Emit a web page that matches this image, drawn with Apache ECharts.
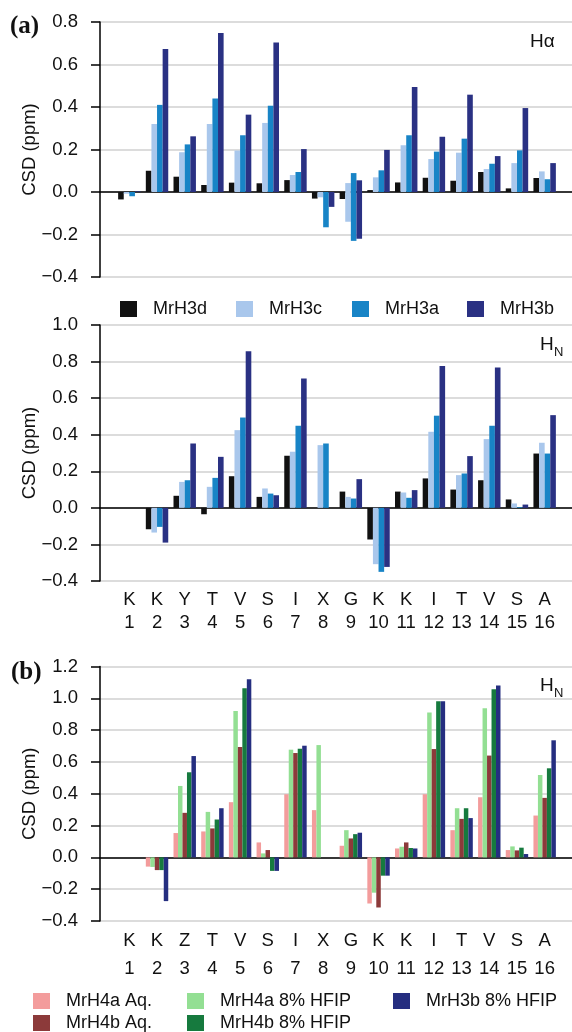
<!DOCTYPE html>
<html>
<head>
<meta charset="utf-8">
<script src="https://cdn.jsdelivr.net/npm/echarts@6/dist/echarts.min.js"></script>
<style>
  html, body { margin: 0; padding: 0; background: #fff; }
  #chart { width: 572px; height: 1032px; }
</style>
</head>
<body>
<div id="chart"></div>
<script>
  // residues along the peptide
  var residuesA = ['K', 'K', 'Y', 'T', 'V', 'S', 'I', 'X', 'G', 'K', 'K', 'I', 'T', 'V', 'S', 'A'];
  var residuesB = ['K', 'K', 'Z', 'T', 'V', 'S', 'I', 'X', 'G', 'K', 'K', 'I', 'T', 'V', 'S', 'A'];
  var positions = [1, 2, 3, 4, 5, 6, 7, 8, 9, 10, 11, 12, 13, 14, 15, 16];

  // (a) H alpha
  var haH3d = [-0.035, 0.10, 0.072, 0.033, 0.044, 0.041, 0.056, -0.031, -0.033, 0.009, 0.045, 0.067, 0.053, 0.094, 0.017, 0.066];
  var haH3c = [-0.008, 0.32, 0.187, 0.32, 0.195, 0.325, 0.08, -0.025, -0.14, 0.069, 0.22, 0.155, 0.185, 0.108, 0.136, 0.097];
  var haH3a = [-0.02, 0.41, 0.224, 0.44, 0.267, 0.406, 0.094, -0.166, -0.23, 0.102, 0.267, 0.19, 0.251, 0.133, 0.196, 0.06];
  var haH3b = [0.003, 0.673, 0.262, 0.748, 0.364, 0.704, 0.202, -0.07, -0.22, 0.198, 0.494, 0.26, 0.458, 0.169, 0.395, 0.136];
  // part of the G9 bars drawn above zero
  var haH3cUp = [null, null, null, null, null, null, null, null, 0.042, null, null, null, null, null, null, null];
  var haH3aUp = [null, null, null, null, null, null, null, null, 0.089, null, null, null, null, null, null, null];
  var haH3bUp = [null, null, null, null, null, null, null, null, 0.055, null, null, null, null, null, null, null];

  // (a) HN
  var hnH3d = [null, -0.117, 0.066, -0.035, 0.173, 0.06, 0.285, null, 0.089, -0.173, 0.089, 0.161, 0.10, 0.151, 0.046, 0.297];
  var hnH3c = [null, -0.135, 0.142, 0.115, 0.425, 0.106, 0.307, 0.343, 0.06, -0.308, 0.084, 0.416, 0.179, 0.376, 0.024, 0.356];
  var hnH3a = [null, -0.104, 0.151, 0.164, 0.494, 0.078, 0.449, 0.352, 0.051, -0.35, 0.055, 0.504, 0.188, 0.449, 0.004, 0.297];
  var hnH3b = [null, -0.19, 0.352, 0.279, 0.857, 0.069, 0.708, null, 0.157, -0.323, 0.097, 0.776, 0.283, 0.768, 0.018, 0.507];

  // (b) HN
  var h4aAq = [null, -0.058, 0.153, 0.163, 0.347, 0.094, 0.397, 0.297, 0.073, -0.29, 0.056, 0.397, 0.171, 0.378, 0.046, 0.263];
  var h4aHfip = [null, -0.06, 0.449, 0.286, 0.92, 0.025, 0.677, 0.706, 0.171, -0.222, 0.067, 0.911, 0.309, 0.938, 0.069, 0.518];
  var h4bAq = [null, -0.08, 0.28, 0.182, 0.694, 0.046, 0.656, null, 0.119, -0.315, 0.094, 0.681, 0.242, 0.64, 0.044, 0.374];
  var h4bHfip = [null, -0.08, 0.535, 0.238, 1.064, -0.085, 0.683, null, 0.146, -0.115, 0.059, 0.982, 0.309, 1.057, 0.061, 0.56];
  var h3bHfip = [null, -0.275, 0.637, 0.309, 1.12, -0.085, 0.702, null, 0.155, -0.115, 0.056, 0.982, 0.247, 1.08, 0.021, 0.736];

  var C = {
    h3d: '#111111', h3c: '#a9c7ec', h3a: '#1884c6', h3b: '#2a3183',
    pink: '#f39c9c', lgreen: '#93df93', brown: '#8c3a3a', dgreen: '#167a3e', navy: '#252e80'
  };
  var FONT = '"Liberation Sans", Arial, sans-serif';

  var panels = [
    { top: 22, bottom: 277, min: -0.4, max: 0.8, cats: residuesA, labels: false },
    { top: 325, bottom: 581, min: -0.4, max: 1.0, cats: residuesA, labels: true, lh: 23, margin: 7 },
    { top: 666.5, bottom: 921, min: -0.4, max: 1.2, cats: residuesB, labels: true, lh: 28, margin: 6 }
  ];

  var grids = [], xAxes = [], yAxes = [], names = [];
  panels.forEach(function(p, i) {
    // background grid: y axis, gridlines, zero line
    grids.push({ left: 100, top: p.top, width: 472, height: p.bottom - p.top });
    xAxes.push({
      gridIndex: 2 * i, type: 'value', min: 0, max: 1,
      axisLine: { show: true, onZero: true, lineStyle: { color: '#000', width: 1.5 } },
      axisTick: { show: false }, axisLabel: { show: false }, splitLine: { show: false }
    });
    yAxes.push({
      gridIndex: 2 * i, type: 'value', min: p.min, max: p.max, interval: 0.2,
      axisLine: { show: true, lineStyle: { color: '#000', width: 1.5 } },
      axisTick: { show: true, length: 9, lineStyle: { color: '#000', width: 1.5 } },
      axisLabel: {
        margin: 22, fontSize: 18.5, fontFamily: FONT, color: '#111',
        formatter: function(v) { return v.toFixed(1).replace('-', '\u2212'); }
      },
      splitLine: { lineStyle: { color: '#d0d0d0', width: 1.5 } }
    });
    // y axis title, rotated
    names.push({
      type: 'text', x: 30, y: (p.top + p.bottom) / 2, rotation: Math.PI / 2, silent: true,
      style: { text: 'CSD (ppm)', font: '18.5px ' + FONT, fill: '#111', align: 'center', verticalAlign: 'middle' }
    });
    // bar grid
    grids.push({ left: 115.5, top: p.top, width: 443, height: p.bottom - p.top });
    xAxes.push({
      gridIndex: 2 * i + 1, type: 'category',
      data: p.cats.map(function(r, k) { return r + '\n' + positions[k]; }),
      axisLine: { show: false, onZero: false }, axisTick: { show: false },
      axisLabel: {
        show: p.labels, interval: 0, fontSize: 18.5, fontFamily: FONT, color: '#111',
        lineHeight: p.lh, margin: p.margin
      },
      splitLine: { show: false }
    });
    yAxes.push({ gridIndex: 2 * i + 1, type: 'value', min: p.min, max: p.max, show: false });
  });

  function bar(name, data, color, panel, stack) {
    var s = {
      name: name, type: 'bar', data: data,
      xAxisIndex: 2 * panel + 1, yAxisIndex: 2 * panel + 1,
      itemStyle: { color: color },
      barGap: '0%', barCategoryGap: '19%', silent: true
    };
    if (stack) s.stack = stack;
    return s;
  }

  var series = [
    bar('MrH3d', haH3d, C.h3d, 0),
    bar('MrH3c', haH3c, C.h3c, 0, 'c'),
    bar('MrH3c', haH3cUp, C.h3c, 0, 'c'),
    bar('MrH3a', haH3a, C.h3a, 0, 'a'),
    bar('MrH3a', haH3aUp, C.h3a, 0, 'a'),
    bar('MrH3b', haH3b, C.h3b, 0, 'b'),
    bar('MrH3b', haH3bUp, C.h3b, 0, 'b'),

    bar('MrH3d', hnH3d, C.h3d, 1),
    bar('MrH3c', hnH3c, C.h3c, 1),
    bar('MrH3a', hnH3a, C.h3a, 1),
    bar('MrH3b', hnH3b, C.h3b, 1),

    bar('MrH4a Aq.', h4aAq, C.pink, 2),
    bar('MrH4a 8% HFIP', h4aHfip, C.lgreen, 2),
    bar('MrH4b Aq.', h4bAq, C.brown, 2),
    bar('MrH4b 8% HFIP', h4bHfip, C.dgreen, 2),
    bar('MrH3b 8% HFIP', h3bHfip, C.navy, 2)
  ];

  function legendItem(name, left, top) {
    return {
      data: [name], left: left, top: top, padding: 0,
      icon: 'rect', itemWidth: 17, itemHeight: 16, selectedMode: false,
      textStyle: { fontSize: 18, fontFamily: FONT, color: '#111', padding: [0, 0, 0, 11] }
    };
  }

  var legends = [
    legendItem('MrH3d', 120, 300),
    legendItem('MrH3c', 236, 300),
    legendItem('MrH3a', 352, 300),
    legendItem('MrH3b', 467, 300),
    legendItem('MrH4a Aq.', 33, 992),
    legendItem('MrH4a 8% HFIP', 187, 992),
    legendItem('MrH3b 8% HFIP', 393, 992),
    legendItem('MrH4b Aq.', 33, 1014),
    legendItem('MrH4b 8% HFIP', 187, 1014)
  ];

  function txt(x, y, s, font) {
    return { type: 'text', x: x, y: y, silent: true,
      style: { text: s, font: font, fill: '#111', verticalAlign: 'middle' } };
  }

  var chart = echarts.init(document.getElementById('chart'), null, { renderer: 'canvas' });
  chart.setOption({
    animation: false,
    backgroundColor: '#fff',
    grid: grids,
    xAxis: xAxes,
    yAxis: yAxes,
    legend: legends,
    series: series,
    graphic: names.concat([
      txt(10, 27, '(a)', 'bold 25px "Liberation Serif", serif'),
      txt(11, 673, '(b)', 'bold 25px "Liberation Serif", serif'),
      txt(530, 42, 'H\u03b1', '19px ' + FONT),
      txt(540, 345, 'H', '19px ' + FONT),
      txt(554, 352, 'N', '13px ' + FONT),
      txt(540, 686, 'H', '19px ' + FONT),
      txt(554, 693, 'N', '13px ' + FONT)
    ])
  });
</script>
</body>
</html>
